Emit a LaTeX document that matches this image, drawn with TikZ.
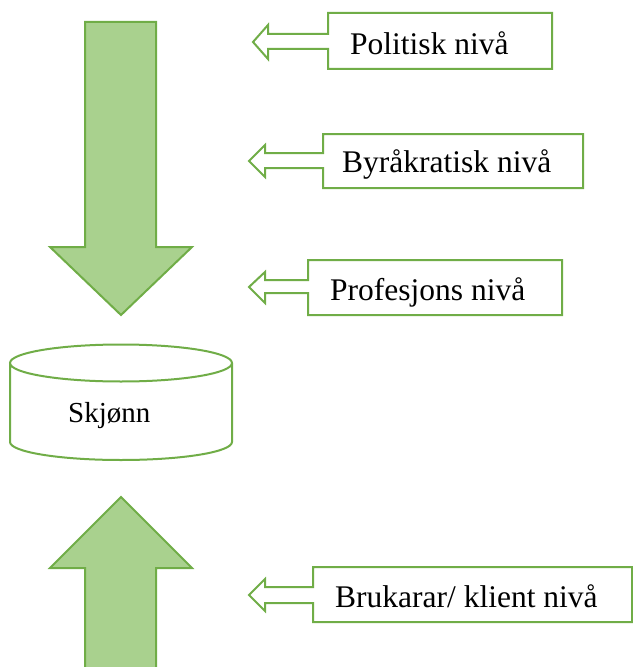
\documentclass[tikz,border=0pt]{standalone}
\usepackage{fontspec}
\setmainfont{Liberation Serif}
\definecolor{gfill}{HTML}{A9D18E}
\definecolor{gline}{HTML}{70AD47}
\begin{document}
\begin{tikzpicture}[x=1bp,y=-1bp,
  bigarrow/.style={fill=gfill,draw=gline,line width=2bp,line join=miter},
  callout/.style={fill=white,draw=gline,line width=2bp,line join=miter},
  lbl/.style={anchor=base west,inner sep=0pt,font=\fontsize{31.5bp}{36bp}\selectfont},
  clbl/.style={anchor=base west,inner sep=0pt,font=\fontsize{29bp}{34bp}\selectfont}]
\useasboundingbox (0,0) rectangle (633,667);
% big down arrow
\draw[bigarrow] (85,22) -- (156,22) -- (156,247) -- (192,247) -- (121,315) -- (50,247) -- (85,247) -- cycle;
% big up arrow
\draw[bigarrow] (85,680) -- (85,568) -- (50,568) -- (121,497) -- (192,568) -- (156,568) -- (156,680);
% callouts
\draw[callout] (328,13) -- (552,13) -- (552,69) -- (328,69) -- (328,49) -- (268,49) -- (268,59) -- (253,42) -- (268,25) -- (268,34) -- (328,34) -- cycle;
\node[lbl] (pol) at (350,55) {Politisk nivå};
\draw[callout] (323,134) -- (583,134) -- (583,188) -- (323,188) -- (323,168) -- (265,168) -- (265,177) -- (249,161) -- (265,145) -- (265,153) -- (323,153) -- cycle;
\node[lbl] (byr) at (342,172) {Byråkratisk nivå};
\draw[callout] (308,260) -- (562,260) -- (562,315) -- (308,315) -- (308,293) -- (265,293) -- (265,303) -- (249,287) -- (265,272) -- (265,280) -- (308,280) -- cycle;
\node[lbl] (pro) at (330,300) {Profesjons nivå};
\draw[callout] (313,567) -- (632,567) -- (632,622) -- (313,622) -- (313,603) -- (265,603) -- (265,611) -- (249,595) -- (265,579) -- (265,587) -- (313,587) -- cycle;
\node[lbl] (bru) at (335,607) {Brukarar/ klient nivå};
% cylinder
\draw[gline,line width=2bp,fill=white] (10,363) -- (10,442) arc[start angle=180,end angle=0,x radius=111,y radius=18] -- (232,363) arc[start angle=0,end angle=-180,x radius=111,y radius=18.5] arc[start angle=180,end angle=0,x radius=111,y radius=18.5];
\node[clbl] (skj) at (68,422) {Skjønn};
\end{tikzpicture}
\end{document}
